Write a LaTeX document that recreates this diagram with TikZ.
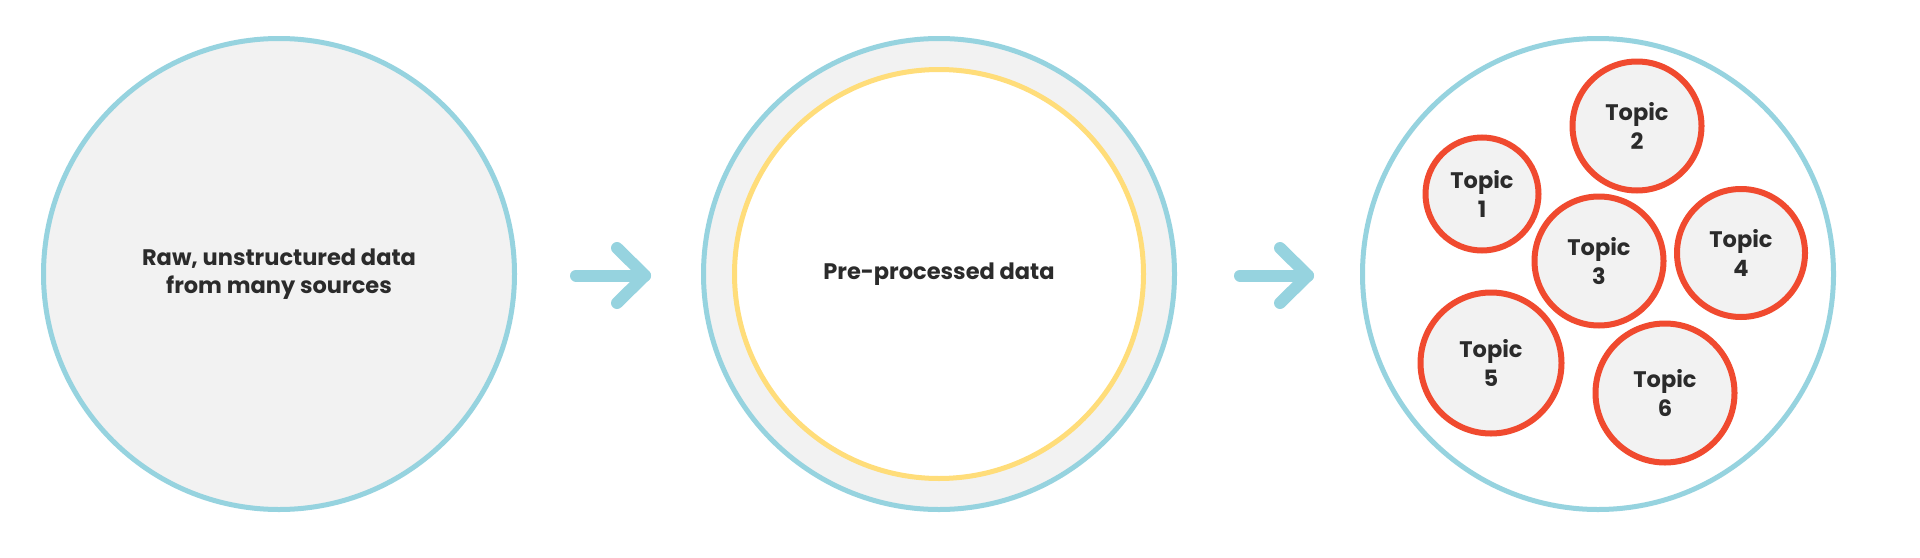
\documentclass[tikz,border=0pt]{standalone}
\usepackage{fontspec}
\setmainfont{Poppins}

\definecolor{ringblue}{HTML}{96D3DF}
\definecolor{ringyellow}{HTML}{FFDD7A}
\definecolor{topicred}{HTML}{F04A2F}
\definecolor{bggray}{HTML}{F2F2F2}
\definecolor{textdark}{HTML}{2B2B2B}

\begin{document}
\begin{tikzpicture}[x=1pt, y=-1pt, text=textdark, font=\bfseries\fontsize{22.5}{28.5}\selectfont]
    \tikzstyle{stage}=[circle, draw=ringblue, line width=5pt, minimum size=471pt, inner sep=0pt, align=center]
    \tikzstyle{inner ring}=[circle, draw=ringyellow, fill=white, line width=5pt, minimum size=409pt, inner sep=0pt, align=center]
    \tikzstyle{topic}=[circle, draw=topicred, fill=bggray, line width=6pt, inner sep=0pt, align=center]
    \tikzstyle{flow arrow}=[draw=ringblue, line width=12pt, line cap=round, line join=round]

    \useasboundingbox (0,0) rectangle (1920,557);

    % Stages
    \node[stage, fill=bggray] (raw) at (279,274) {Raw, unstructured data\\from many sources};
    \node[stage, fill=bggray] (pre) at (939,274) {};
    \node[inner ring] (clean) at (pre) {Pre-processed data};
    \node[stage, fill=white] (topics) at (1598,274) {};

    % Topic clusters
    \foreach \n/\x/\y/\d in {1/1482/194/113, 2/1637/126/129, 3/1599/261/129,
                             4/1741/253/128, 5/1491/363/141, 6/1665/393/139}
        \node[topic, minimum size=\d pt] (T-\n) at (\x,\y) {Topic\\\n};

    % Arrows between stages
    \coordinate (A-1) at (576,275.5);
    \coordinate (B-1) at (645,275.5);
    \coordinate (A-2) at (1240,275.5);
    \coordinate (B-2) at (1308,275.5);
    \foreach \i in {1,2} {
        \draw[flow arrow] (A-\i) -- (B-\i);
        \draw[flow arrow] (B-\i) ++(-28,-27.5) -- (B-\i) -- ++(-28,27.5);
    }
\end{tikzpicture}
\end{document}
